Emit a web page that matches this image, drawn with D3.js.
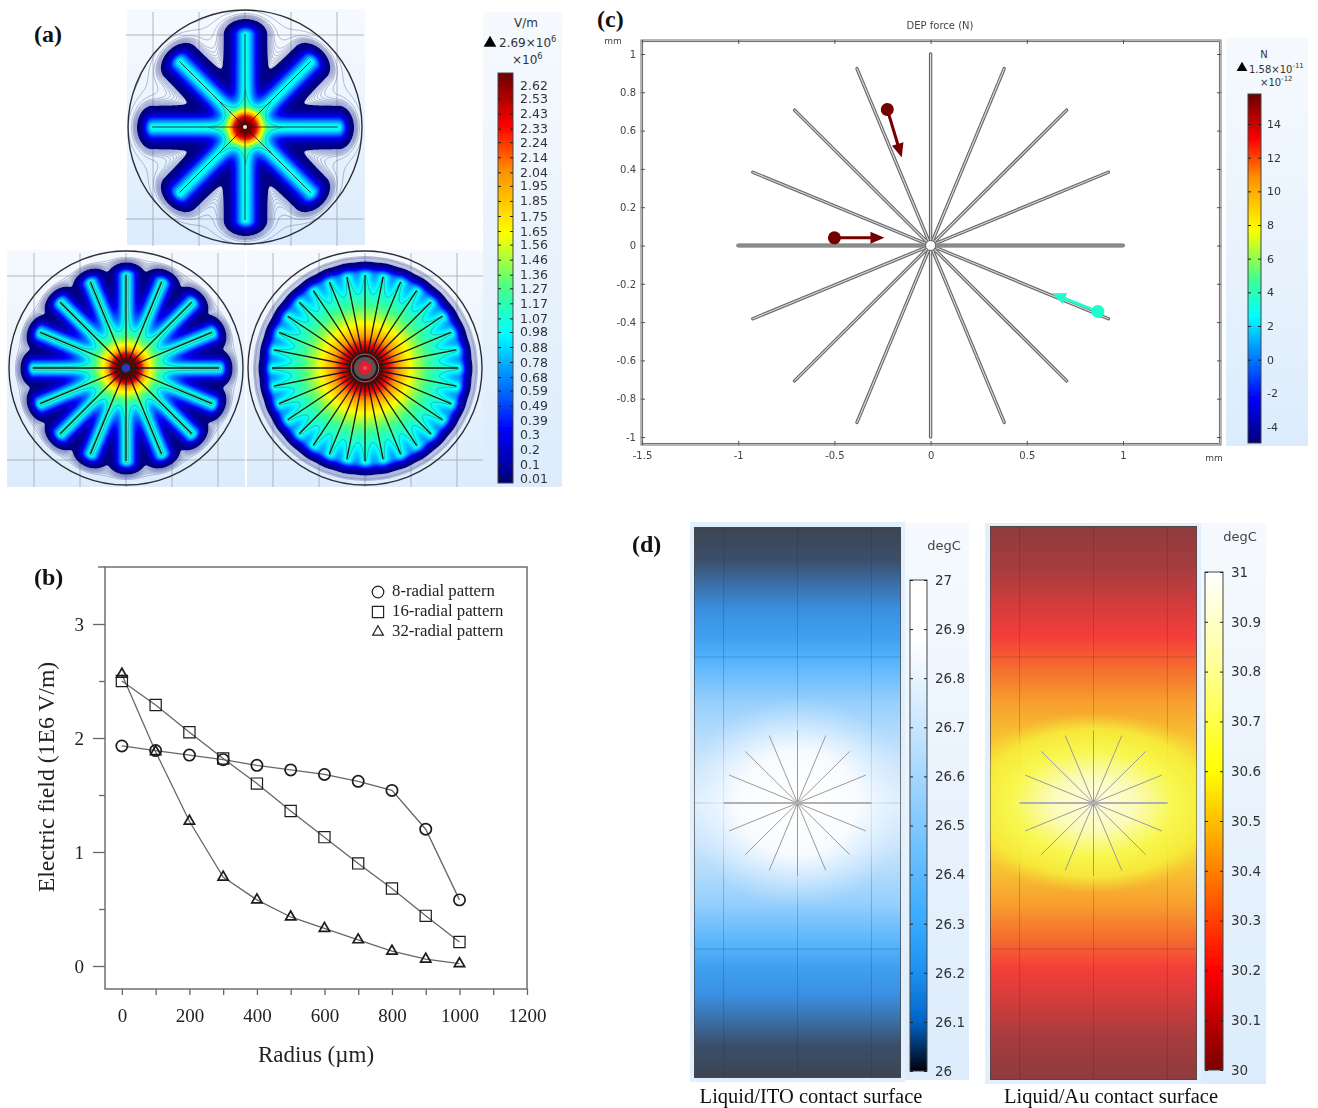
<!DOCTYPE html>
<html>
<head>
<meta charset="utf-8">
<script src="https://cdn.jsdelivr.net/npm/d3@7"></script>
<style>
  body { margin: 0; background: #fff; }
  svg { display: block; }
  text { font-family: "DejaVu Sans", sans-serif; }
  .serif text, text.serif { font-family: "Liberation Serif", serif; }
</style>
</head>
<body>
<svg id="chart" width="1318" height="1108"></svg>
<script>
// (b) electric field vs radius
const radius = [0, 100, 200, 300, 400, 500, 600, 700, 800, 900, 1000];
const radial8 = [1.93, 1.89, 1.85, 1.81, 1.76, 1.72, 1.68, 1.62, 1.54, 1.20, 0.58];
const radial16 = [2.50, 2.29, 2.05, 1.82, 1.60, 1.36, 1.13, 0.90, 0.68, 0.44, 0.21];
const radial32 = [2.56, 1.88, 1.27, 0.78, 0.58, 0.43, 0.33, 0.23, 0.13, 0.06, 0.02];
const legendNames = ['8-radial pattern', '16-radial pattern', '32-radial pattern'];

// (a) colour bar
const fieldLabels = [2.62, 2.53, 2.43, 2.33, 2.24, 2.14, 2.04, 1.95, 1.85, 1.75, 1.65, 1.56, 1.46, 1.36, 1.27, 1.17, 1.07, 0.98, 0.88, 0.78, 0.68, 0.59, 0.49, 0.39, 0.3, 0.2, 0.1, 0.01];
const spokeCounts = [8, 16, 32];
const spokeSpread = [10, 8.4, 9];
const spokePeak = [1.1, 1.2, 1.1];
const halo8 = [0.018, 0.015, 0.0125, 0.0105, 0.0088, 0.0074, 0.0062, 0.0052, 0.0038, 0.0024, 0.0014];
const halo16 = [0.018, 0.015, 0.0125, 0.0105, 0.0088, 0.0074, 0.0062, 0.0052, 0.0044, 0.0036];
const halo32 = [0.018, 0.012, 0.008, 0.0055, 0.0048, 0.0041, 0.0034];
const haloLevels = [halo8, halo16, halo32];

// (c) force map
const forceLabels = [14, 12, 10, 8, 6, 4, 2, 0, -2, -4];
const cXTicks = [-1.5, -1, -0.5, 0, 0.5, 1];
const cYTicks = [1, 0.8, 0.6, 0.4, 0.2, 0, -0.2, -0.4, -0.6, -0.8, -1];
const particleX = [-0.5, -0.225, 0.87];
const particleY = [0.04, 0.71, -0.345];
const arrowX = [-0.24, -0.15, 0.63];
const arrowY = [0.04, 0.46, -0.25];
const particleForce = [15.6, 15.6, 3.6];

// (d) temperature bars
const itoLabels = [27, 26.9, 26.8, 26.7, 26.6, 26.5, 26.4, 26.3, 26.2, 26.1, 26];
const auLabels = [31, 30.9, 30.8, 30.7, 30.6, 30.5, 30.4, 30.3, 30.2, 30.1, 30];

// colour maps
const rainbowStops = [0, 0.13, 0.2, 0.28, 0.364, 0.47, 0.54, 0.61, 0.76, 0.87, 1];
const rainbowColors = ['#00007a', '#0000ff', '#0050ff', '#00a0ff', '#00ffff', '#40ff90', '#a0ff40', '#ffff00', '#ff9000', '#ff0000', '#6a0000'];
const itoBarStops = [0, 0.1, 0.2, 0.3, 0.5, 0.7, 0.88, 1];
const itoBarColors = ['#000008', '#0064c8', '#1c90f0', '#36aaff', '#80c8ff', '#c8e6ff', '#ffffff', '#ffffff'];
const auBarStops = [0, 0.2, 0.4, 0.6, 0.8, 1];
const auBarColors = ['#7a0000', '#ff0000', '#ff8000', '#ffff00', '#ffff90', '#ffffff'];
const itoSurfStops = [0, 0.06, 0.1, 0.15, 0.2, 0.24, 0.32, 0.42, 0.5, 0.58, 0.68, 0.76, 0.8, 0.85, 0.9, 0.94, 1];
const itoSurfColors = ['#3d4452', '#3b4f6b', '#3a6ca3', '#3a8fe0', '#40a0f0', '#53b3fc', '#98d0fc', '#c8e4fd', '#dff0fe', '#c8e4fd', '#98d0fc', '#53b3fc', '#40a0f0', '#3a8fe0', '#3a6ca3', '#3b4f6b', '#3d4452'];
const auSurfStops = [0, 0.08, 0.15, 0.2, 0.26, 0.32, 0.4, 0.5, 0.6, 0.68, 0.74, 0.8, 0.85, 0.92, 1];
const auSurfColors = ['#8e3b3e', '#a83c3e', '#d83c3c', '#f43d3a', '#f5702e', '#f7a02e', '#f8cc34', '#f9dc38', '#f8cc34', '#f7a02e', '#f5702e', '#f43d3a', '#d83c3c', '#a83c3e', '#8e3b3e'];

const svg = d3.select('#chart');
const defs = svg.append('defs');
const rainbow = d3.scaleLinear().domain(rainbowStops).range(rainbowColors).clamp(true);

function addGradient(id, stops, colors) {
  // bottom of the bar = first stop
  const g = defs.append('linearGradient').attr('id', id)
    .attr('x1', 0).attr('x2', 0).attr('y1', 1).attr('y2', 0);
  stops.forEach((s, i) => g.append('stop').attr('offset', s).attr('stop-color', colors[i]));
}
addGradient('rainbowBar', rainbowStops, rainbowColors);
addGradient('itoBar', itoBarStops, itoBarColors);
addGradient('auBar', auBarStops, auBarColors);
addGradient('itoSurf', itoSurfStops, itoSurfColors);
addGradient('auSurf', auSurfStops, auSurfColors);

const paleBg = defs.append('linearGradient').attr('id', 'paleBg')
  .attr('x1', 0).attr('x2', 0).attr('y1', 0).attr('y2', 1);
paleBg.append('stop').attr('offset', 0).attr('stop-color', '#f6fafe');
paleBg.append('stop').attr('offset', 1).attr('stop-color', '#dcecfc');

defs.append('filter').attr('id', 'soft').append('feGaussianBlur').attr('stdDeviation', 0.6);
defs.append('filter').attr('id', 'softer').append('feGaussianBlur').attr('stdDeviation', 0.3);

function panelLetter(label, x, y) {
  svg.append('text').attr('class', 'serif').attr('x', x).attr('y', y)
    .attr('font-size', 24).attr('font-weight', 'bold').attr('fill', '#111').text(label);
}

function colorBar(opts) {
  const g = svg.append('g').attr('filter', 'url(#softer)');
  g.append('rect').attr('x', opts.x).attr('y', opts.top)
    .attr('width', opts.width).attr('height', opts.bottom - opts.top)
    .attr('fill', `url(#${opts.grad})`).attr('stroke', '#444').attr('stroke-width', 1);
  const right = g.append('g').attr('transform', `translate(${opts.x + opts.width},0)`)
    .call(d3.axisRight(opts.scale).tickValues(opts.values).tickSize(-3).tickPadding(opts.pad).tickFormat(d => d));
  const left = g.append('g').attr('transform', `translate(${opts.x},0)`)
    .call(d3.axisLeft(opts.scale).tickValues(opts.values).tickSize(-3).tickFormat(''));
  right.select('.domain').remove();
  left.select('.domain').remove();
  g.selectAll('line').attr('stroke', '#222');
  right.selectAll('text').attr('font-size', opts.fontSize).attr('fill', '#333')
    .attr('font-family', '"DejaVu Sans", sans-serif');
}

function maxLabel(x, y, base, sup, size) {
  const t = svg.append('text').attr('x', x).attr('y', y).attr('font-size', size).attr('fill', '#333');
  t.append('tspan').text(base);
  t.append('tspan').attr('dy', -5).attr('font-size', size * 0.7).text(sup);
}

// ---------- (a) field maps ----------
const rim = 117;
const spokeLen = 93;
const tailAmp = 0.03;
const tailLen = 13;
const fieldMax = 2.69;
const fieldPanels = [
  { x: 127, y: 9, w: 238, h: 236, cx: 245, cy: 127 },
  { x: 7, y: 250, w: 238, h: 237, cx: 126, cy: 368 },
  { x: 247, y: 250, w: 236, h: 237, cx: 365, cy: 368 }
];
const fieldLevels = d3.range(0.02, fieldMax, 0.05);

function segDist(px, py, ax, ay) {
  // distance to segment centre -> (ax, ay), shortened reach past the tip
  const len2 = ax * ax + ay * ay;
  const raw = (px * ax + py * ay) / len2;
  const over = raw > 1 ? (raw - 1) * Math.sqrt(len2) : 0;
  const perp = Math.hypot(px - ax * raw, py - ay * raw);
  if (raw < 0) return Math.hypot(px, py);
  return Math.hypot(perp, over * 1.4);
}

spokeCounts.forEach((count, k) => {
  const p = fieldPanels[k];
  const n = rim * 2 + 4;
  const spread = spokeSpread[k];
  const peak = spokePeak[k];
  const ends = d3.range(count).map(i => {
    const a = i / count * 2 * Math.PI;
    return [spokeLen * Math.cos(a), spokeLen * Math.sin(a)];
  });
  const values = new Float64Array(n * n);
  for (let j = 0; j < n; j++) {
    for (let i = 0; i < n; i++) {
      const px = i - n / 2, py = j - n / 2;
      let v = 0;
      ends.forEach(e => {
        const d = segDist(px, py, e[0], e[1]);
        v += peak * Math.exp(-Math.pow(d / spread, 1.9)) + tailAmp * Math.exp(-d / tailLen) / count * 8;
      });
      // soft saturation close to the hub
      values[j * n + i] = Math.min(v / Math.sqrt(1 + (v / 2.9) * (v / 2.9)), fieldMax);
    }
  }

  svg.append('rect').attr('x', p.x).attr('y', p.y).attr('width', p.w).attr('height', p.h).attr('fill', 'url(#paleBg)');

  const gridG = svg.append('g').attr('stroke', '#8d939c').attr('stroke-width', 0.8).attr('opacity', 0.8);
  [-92, -46, 0, 46, 92].forEach(o => gridG.append('line')
    .attr('x1', p.cx + o).attr('x2', p.cx + o).attr('y1', p.cy - rim + 2).attr('y2', p.cy + rim + 2));
  [-92, 92].forEach(o => gridG.append('line')
    .attr('x1', p.cx - rim - 2).attr('x2', p.cx + rim + 2).attr('y1', p.cy + o).attr('y2', p.cy + o));

  defs.append('clipPath').attr('id', `rim${k}`).append('circle')
    .attr('cx', n / 2).attr('cy', n / 2).attr('r', rim);

  const plot = svg.append('g').attr('transform', `translate(${p.cx - n / 2},${p.cy - n / 2})`);
  const clip = plot.append('g').attr('clip-path', `url(#rim${k})`);

  const contours = d3.contours().size([n, n]);
  const path = d3.geoPath();

  clip.append('g').attr('fill', 'none').attr('stroke', '#4d5398').attr('stroke-width', 0.5).attr('opacity', 0.8)
    .selectAll('path').data(contours.thresholds(haloLevels[k])(values)).join('path').attr('d', path);

  clip.append('g').attr('filter', 'url(#soft)')
    .selectAll('path').data(contours.thresholds(fieldLevels)(values)).join('path')
    .attr('d', path).attr('fill', d => rainbow(d.value / fieldMax));

  clip.append('g').attr('fill', 'none').attr('stroke', '#3c6a70').attr('stroke-width', 0.6).attr('opacity', 0.8)
    .selectAll('path').data(contours.thresholds([1.07, 2.24])(values)).join('path').attr('d', path);

  const centre = plot.append('g').attr('transform', `translate(${n / 2},${n / 2})`);
  centre.selectAll('line').data(ends).join('line')
    .attr('x1', 0).attr('y1', 0).attr('x2', d => d[0]).attr('y2', d => d[1])
    .attr('stroke', '#14181c').attr('stroke-width', count === 8 ? 1 : 1.3).attr('stroke-opacity', count === 8 ? 0.8 : 1);
  if (count === 8) {
    centre.append('circle').attr('r', 2).attr('fill', '#f4e8c8');
  } else if (count === 16) {
    centre.append('circle').attr('r', 4.5).attr('fill', '#2a3ab8').attr('stroke', '#222').attr('stroke-width', 0.7);
  } else {
    centre.append('circle').attr('r', 11).attr('fill', '#5a5458');
    centre.append('circle').attr('r', 14).attr('fill', 'none').attr('stroke', '#777').attr('stroke-width', 1);
    centre.append('circle').attr('r', 6.5).attr('fill', '#f01828');
    centre.append('circle').attr('r', 2).attr('fill', '#c06070');
  }

  plot.append('circle').attr('cx', n / 2).attr('cy', n / 2).attr('r', rim)
    .attr('fill', 'none').attr('stroke', '#2c2f38').attr('stroke-width', 1.4);
});

svg.append('rect').attr('x', 483).attr('y', 12).attr('width', 79).attr('height', 475).attr('fill', 'url(#paleBg)');
colorBar({
  scale: d3.scaleLinear().domain([0.01, 2.62]).range([478, 85]),
  values: fieldLabels, x: 498, width: 15, top: 73, bottom: 483,
  grad: 'rainbowBar', pad: 7, fontSize: 12.5
});
svg.append('text').attr('x', 526).attr('y', 27).attr('text-anchor', 'middle').attr('font-size', 12).attr('fill', '#333').text('V/m');
svg.append('path').attr('transform', 'translate(490,43)').attr('d', d3.symbol(d3.symbolTriangle, 70)()).attr('fill', '#000');
maxLabel(499, 47, '2.69×10', '6', 12);
maxLabel(512, 64, '×10', '6', 12);
panelLetter('(a)', 34, 42);

// ---------- (b) line chart ----------
const bx = d3.scaleLinear().domain([-50, 1200]).range([105, 527]);
const by = d3.scaleLinear().domain([0, 3]).range([966, 624]);
const bTop = 567, bBottom = 989;
const bPlot = svg.append('g').attr('class', 'serif').attr('filter', 'url(#softer)');

bPlot.append('rect').attr('x', bx.range()[0]).attr('y', bTop).attr('width', bx.range()[1] - bx.range()[0])
  .attr('height', bBottom - bTop).attr('fill', 'none').attr('stroke', '#666').attr('stroke-width', 1.4);
bPlot.append('line').attr('x1', 98).attr('x2', 105).attr('y1', bTop).attr('y2', bTop).attr('stroke', '#666').attr('stroke-width', 1.4);

const xMajor = bPlot.append('g').attr('transform', `translate(0,${bBottom})`)
  .call(d3.axisBottom(bx).tickValues(d3.range(0, 1201, 200)).tickSize(6).tickPadding(14).tickFormat(d => d));
const xMinor = bPlot.append('g').attr('transform', `translate(0,${bBottom})`)
  .call(d3.axisBottom(bx).tickValues(d3.range(100, 1200, 200)).tickSize(6).tickFormat(''));
const yMajor = bPlot.append('g').attr('transform', 'translate(105,0)')
  .call(d3.axisLeft(by).tickValues([0, 1, 2, 3]).tickSize(12).tickPadding(9).tickFormat(d => d));
const yMinor = bPlot.append('g').attr('transform', 'translate(105,0)')
  .call(d3.axisLeft(by).tickValues([0.5, 1.5, 2.5]).tickSize(6).tickFormat(''));
[xMajor, xMinor, yMajor, yMinor].forEach(a => {
  a.select('.domain').remove();
  a.selectAll('line').attr('stroke', '#666').attr('stroke-width', 1.3);
  a.selectAll('text').attr('font-size', 19).attr('fill', '#222').attr('font-family', '"Liberation Serif", serif');
});

const bLine = d3.line().x((d, i) => bx(radius[i])).y(d => by(d));
const bSeries = [radial8, radial16, radial32];
const bSymbols = [d3.symbol(d3.symbolCircle, 100), d3.symbol(d3.symbolSquare, 125), d3.symbol(d3.symbolTriangle, 46)];
bSeries.forEach(s => bPlot.append('path').attr('d', bLine(s)).attr('fill', 'none').attr('stroke', '#666').attr('stroke-width', 1.3));
bSeries.forEach((s, k) => {
  bPlot.append('g').selectAll('path').data(s).join('path')
    .attr('transform', (d, i) => `translate(${bx(radius[i])},${by(d)})`)
    .attr('d', bSymbols[k]()).attr('fill', 'none').attr('stroke', '#1c1c1c').attr('stroke-width', k === 1 ? 1.2 : 1.7);
});

legendNames.forEach((name, k) => {
  const y = 591 + k * 20;
  bPlot.append('path').attr('transform', `translate(378,${y + 1})`)
    .attr('d', d3.symbol(k === 0 ? d3.symbolCircle : k === 1 ? d3.symbolSquare : d3.symbolTriangle, k === 0 ? 105 : k === 1 ? 125 : 50)())
    .attr('fill', 'none').attr('stroke', '#222').attr('stroke-width', 1.2);
  bPlot.append('text').attr('x', 392).attr('y', y + 5).attr('font-size', 16.8).attr('fill', '#222').text(name);
});

bPlot.append('text').attr('x', 316).attr('y', 1062).attr('text-anchor', 'middle')
  .attr('font-size', 23).attr('fill', '#222').text('Radius (µm)');
bPlot.append('text').attr('transform', 'translate(54,777) rotate(-90)').attr('text-anchor', 'middle')
  .attr('font-size', 23.7).attr('fill', '#222').text('Electric field (1E6 V/m)');
panelLetter('(b)', 34, 585);

// ---------- (c) DEP force ----------
const cx = d3.scaleLinear().domain([-1.5, 1]).range([642, 1123]);
const cy = d3.scaleLinear().domain([-1, 1]).range([437, 54]);
const cLeft = 641, cRight = 1221, cTop = 40, cBottom = 445;
const cPlot = svg.append('g').attr('filter', 'url(#softer)');

[0, 1.6].forEach(o => cPlot.append('rect').attr('x', cLeft + o).attr('y', cTop + o)
  .attr('width', cRight - cLeft - 2 * o).attr('height', cBottom - cTop - 2 * o)
  .attr('fill', 'none').attr('stroke', '#5c5c5c').attr('stroke-width', 0.9));

const cAxes = [
  cPlot.append('g').attr('transform', `translate(${cLeft},0)`).call(d3.axisLeft(cy).tickValues(cYTicks).tickSize(-4).tickPadding(5).tickFormat(d => d)),
  cPlot.append('g').attr('transform', `translate(${cRight},0)`).call(d3.axisRight(cy).tickValues(cYTicks).tickSize(-4).tickFormat('')),
  cPlot.append('g').attr('transform', `translate(0,${cBottom})`).call(d3.axisBottom(cx).tickValues(cXTicks).tickSize(-4).tickPadding(7).tickFormat(d => d)),
  cPlot.append('g').attr('transform', `translate(0,${cTop})`).call(d3.axisTop(cx).tickValues(cXTicks).tickSize(-4).tickFormat(''))
];
cAxes.forEach(a => {
  a.select('.domain').remove();
  a.selectAll('line').attr('stroke', '#555');
  a.selectAll('text').attr('font-size', 10).attr('fill', '#444').attr('font-family', '"DejaVu Sans", sans-serif');
});

const spokeAngles = d3.range(16).map(i => i * Math.PI / 8);
const cSpokes = cPlot.append('g');
[['#666', 3.4], ['#d8d8d8', 1.2]].forEach(st => {
  cSpokes.append('g').selectAll('line').data(spokeAngles).join('line')
    .attr('x1', d => cx(0.02 * Math.cos(d))).attr('y1', d => cy(0.02 * Math.sin(d)))
    .attr('x2', d => cx(Math.cos(d))).attr('y2', d => cy(Math.sin(d)))
    .attr('stroke', st[0]).attr('stroke-width', st[1]).attr('stroke-linecap', 'round');
});
cPlot.append('line').attr('x1', cx(-1)).attr('x2', cx(1)).attr('y1', cy(0)).attr('y2', cy(0))
  .attr('stroke', '#8a8a8a').attr('stroke-width', 4).attr('stroke-linecap', 'round');
cPlot.append('circle').attr('cx', cx(0)).attr('cy', cy(0)).attr('r', 5).attr('fill', '#fff').attr('stroke', '#555').attr('stroke-width', 1);

const forceScale = d3.scaleLinear().domain([-4.95, 15.8]).range([0, 1]);
particleX.forEach((px, i) => {
  const col = rainbow(forceScale(particleForce[i]));
  const x0 = cx(px), y0 = cy(particleY[i]), x1 = cx(arrowX[i]), y1 = cy(arrowY[i]);
  const ang = Math.atan2(y1 - y0, x1 - x0) * 180 / Math.PI;
  const len = Math.hypot(x1 - x0, y1 - y0);
  const g = cPlot.append('g').attr('transform', `translate(${x0},${y0}) rotate(${ang})`);
  g.append('line').attr('x1', 0).attr('x2', len - 8).attr('stroke', col).attr('stroke-width', 3);
  g.append('path').attr('d', d3.line()([[len - 14, -6], [len, 0], [len - 14, 6]]) + 'Z').attr('fill', col);
  g.append('circle').attr('r', 6.5).attr('fill', col);
});

cPlot.append('text').attr('x', 940).attr('y', 29).attr('text-anchor', 'middle').attr('font-size', 10).attr('fill', '#444').text('DEP force (N)');
cPlot.append('text').attr('x', 613).attr('y', 44).attr('text-anchor', 'middle').attr('font-size', 9).attr('fill', '#444').text('mm');
cPlot.append('text').attr('x', 1214).attr('y', 461).attr('text-anchor', 'middle').attr('font-size', 9).attr('fill', '#444').text('mm');

svg.append('rect').attr('x', 1226).attr('y', 38).attr('width', 82).attr('height', 408).attr('fill', 'url(#paleBg)');
colorBar({
  scale: d3.scaleLinear().domain([-4, 14]).range([427, 124]),
  values: forceLabels, x: 1248, width: 13, top: 94, bottom: 443,
  grad: 'rainbowBar', pad: 6, fontSize: 11
});
svg.append('text').attr('x', 1264).attr('y', 58).attr('text-anchor', 'middle').attr('font-size', 10).attr('fill', '#333').text('N');
svg.append('path').attr('transform', 'translate(1242,68)').attr('d', d3.symbol(d3.symbolTriangle, 50)()).attr('fill', '#000');
maxLabel(1249, 73, '1.58×10', '-11', 10);
maxLabel(1260, 86, '×10', '-12', 10);
panelLetter('(c)', 597, 27);

// ---------- (d) temperature surfaces ----------
const surfaces = [
  { bgX: 690, bgW: 215, bgY: 522, bgH: 560, px: 694, pw: 207, top: 527, bottom: 1078, grad: 'itoSurf',
    barBgX: 905, barBgW: 64, barBgY: 523, barBgH: 557, barX: 910, barW: 17, domain: [26, 27], range: [1071, 580],
    barGrad: 'itoBar', labels: itoLabels, unitX: 944, unitY: 550, caption: 'Liquid/ITO contact surface', capX: 811,
    glow: [['0', '#ffffff', 1], ['0.5', '#ffffff', 0.85], ['0.75', '#f4faff', 0.4], ['1', '#e0f0ff', 0]], rx: 115, ry: 105 },
  { bgX: 985, bgW: 216, bgY: 523, bgH: 561, px: 990, pw: 207, top: 526, bottom: 1080, grad: 'auSurf',
    barBgX: 1201, barBgW: 65, barBgY: 523, barBgH: 561, barX: 1205, barW: 18, domain: [30, 31], range: [1070, 572],
    barGrad: 'auBar', labels: auLabels, unitX: 1240, unitY: 541, caption: 'Liquid/Au contact surface', capX: 1111,
    glow: [['0', '#fdfde4', 1], ['0.3', '#fbfbb8', 1], ['0.58', '#f8f850', 0.98], ['0.82', '#f6ee3a', 0.85], ['1', '#f6d83a', 0]], rx: 140, ry: 90 }
];

surfaces.forEach((s, k) => {
  const mx = d3.scaleLinear().domain([-1.4, 1.4]).range([s.px, s.px + s.pw]);
  const my = d3.scaleLinear().domain([2, -2]).range([657, 949]);
  svg.append('rect').attr('x', s.bgX).attr('y', s.bgY).attr('width', s.bgW).attr('height', s.bgH).attr('fill', '#e2f0fd');
  svg.append('rect').attr('x', s.barBgX).attr('y', s.barBgY).attr('width', s.barBgW).attr('height', s.barBgH).attr('fill', 'url(#paleBg)');

  defs.append('clipPath').attr('id', `surf${k}`).append('rect')
    .attr('x', s.px).attr('y', s.top).attr('width', s.pw).attr('height', s.bottom - s.top);
  const rg = defs.append('radialGradient').attr('id', `glow${k}`);
  s.glow.forEach(g => rg.append('stop').attr('offset', g[0]).attr('stop-color', g[1]).attr('stop-opacity', g[2]));

  const g = svg.append('g').attr('clip-path', `url(#surf${k})`);
  g.append('rect').attr('x', s.px).attr('y', s.top).attr('width', s.pw).attr('height', s.bottom - s.top)
    .attr('fill', `url(#${s.grad})`).attr('stroke', '#555');

  // grid goes under the glow so it fades out around the electrode
  const grid = g.append('g').attr('stroke', '#203040').attr('stroke-width', 0.8).attr('stroke-opacity', 0.3);
  [-1, 0, 1].forEach(v => grid.append('line').attr('x1', mx(v)).attr('x2', mx(v)).attr('y1', s.top).attr('y2', s.bottom));
  [-2, 0, 2].forEach(v => grid.append('line').attr('x1', s.px).attr('x2', s.px + s.pw).attr('y1', my(v)).attr('y2', my(v)));

  g.append('ellipse').attr('cx', mx(0)).attr('cy', my(0)).attr('rx', s.rx).attr('ry', s.ry).attr('fill', `url(#glow${k})`);

  g.append('g').selectAll('line').data(spokeAngles).join('line')
    .attr('x1', mx(0)).attr('y1', my(0))
    .attr('x2', d => mx(Math.cos(d))).attr('y2', d => my(Math.sin(d)))
    .attr('stroke', '#9a9a9a').attr('stroke-width', 1);
  g.append('line').attr('x1', mx(-1)).attr('x2', mx(1)).attr('y1', my(0)).attr('y2', my(0))
    .attr('stroke', '#b0b0b0').attr('stroke-width', 2.2);
  g.append('rect').attr('x', s.px).attr('y', s.top).attr('width', s.pw).attr('height', s.bottom - s.top)
    .attr('fill', 'none').attr('stroke', '#444').attr('stroke-width', 1);

  colorBar({
    scale: d3.scaleLinear().domain(s.domain).range(s.range),
    values: s.labels, x: s.barX, width: s.barW, top: s.range[1], bottom: s.range[0],
    grad: s.barGrad, pad: 8, fontSize: 13.5
  });
  svg.append('text').attr('x', s.unitX).attr('y', s.unitY).attr('text-anchor', 'middle').attr('font-size', 13).attr('fill', '#444').text('degC');
  svg.append('text').attr('class', 'serif').attr('x', s.capX).attr('y', 1103).attr('text-anchor', 'middle')
    .attr('font-size', 20.5).attr('fill', '#111').text(s.caption);
});
panelLetter('(d)', 632, 552);
</script>
</body>
</html>
